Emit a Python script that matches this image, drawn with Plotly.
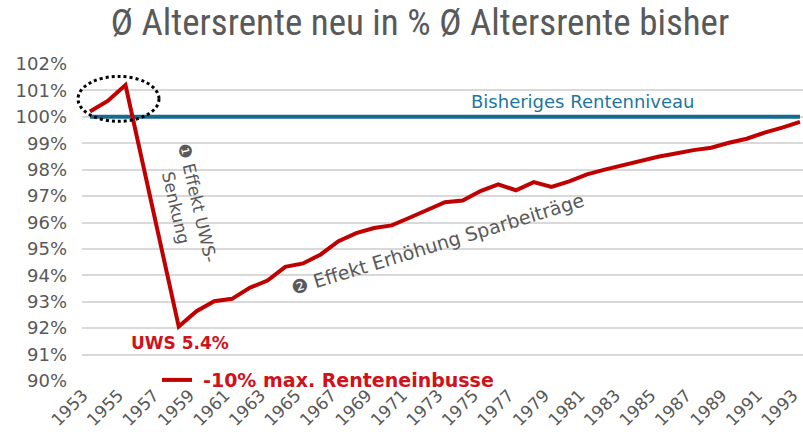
import plotly.graph_objects as go

years = list(range(1953, 1994))
rente_neu = [100.2, 100.6, 101.2, 98.15, 95.1, 92.06, 92.64, 93.02, 93.11, 93.53,
             93.8, 94.32, 94.45, 94.79, 95.29, 95.6, 95.79, 95.89, 96.18, 96.47,
             96.77, 96.83, 97.19, 97.44, 97.22, 97.53, 97.35, 97.56, 97.82, 98.0,
             98.16, 98.32, 98.49, 98.61, 98.74, 98.83, 99.02, 99.17, 99.40, 99.59, 99.81]
rente_bisher = [100.0] * len(years)
x_ticks = list(range(1953, 1994, 2))
y_ticks = list(range(90, 103))

RED = "#c00000"
RED_TXT = "#d0121b"
BLUE = "#156a8e"
BLUE_TXT = "#1d76a0"
GRAY = "#595959"
FONT = "DejaVu Sans, Liberation Sans, Arial, sans-serif"

fig = go.Figure()
fig.add_trace(go.Scatter(x=years, y=rente_bisher, mode="lines",
                         line=dict(color=BLUE, width=4), showlegend=False,
                         name="Bisheriges Rentenniveau"))
fig.add_trace(go.Scatter(x=years, y=rente_neu, mode="lines",
                         line=dict(color=RED, width=4), showlegend=True,
                         name="\u00a0<b>-10% max. Renteneinbusse</b>"))

# dotted ellipse highlighting the early peak (x in paper units so it is not clipped)
fig.add_shape(type="circle", xref="paper", yref="y",
              x0=-0.0055, x1=0.1068, y0=99.83, y1=101.53,
              line=dict(color="black", width=3, dash="3px,3px"), layer="above")

fig.add_annotation(x=1980.8, y=100.58, text="Bisheriges Rentenniveau",
                   showarrow=False, font=dict(family=FONT, size=18, color=BLUE_TXT))
fig.add_annotation(x=1958.44, y=96.66, text="❶ Effekt UWS-<br>Senkung",
                   showarrow=False, textangle=77, align="center",
                   font=dict(family=FONT, size=17, color=GRAY))
fig.add_annotation(x=1972.55, y=95.2, text="❷ Effekt Erhöhung Sparbeiträge",
                   showarrow=False, textangle=-17,
                   font=dict(family=FONT, size=19, color=GRAY))
fig.add_annotation(x=1958.07, y=91.42, text="<b>UWS 5.4%</b>",
                   showarrow=False, font=dict(family=FONT, size=17, color=RED_TXT))

fig.update_layout(
    width=803, height=434,
    margin=dict(l=82, r=0, t=64, b=53, autoexpand=False),
    paper_bgcolor="white", plot_bgcolor="white",
    font=dict(family=FONT, color=GRAY),
    title=dict(text="Ø Altersrente neu in % Ø Altersrente bisher",
               x=420 / 803, xanchor="center", y=1 - 22 / 434, yanchor="middle",
               font=dict(family="Liberation Sans Narrow, Arial Narrow, Roboto Condensed, sans-serif",
                         size=37, color=GRAY)),
    legend=dict(orientation="h", x=0.104, xanchor="left", y=0.003, yanchor="middle",
                font=dict(family=FONT, size=19, color=RED_TXT),
                bgcolor="rgba(0,0,0,0)", itemwidth=30),
    xaxis=dict(range=[1952.55, 1993.17], tickvals=x_ticks, automargin=False,
               ticktext=[str(t) for t in x_ticks], tickangle=-45,
               ticklabeloverflow="allow", ticklabelshift=-7,
               showgrid=False, zeroline=False, showline=False,
               tickfont=dict(family=FONT, size=17, color=GRAY)),
    yaxis=dict(range=[90, 102], tickvals=y_ticks, automargin=False,
               ticktext=[f"{t}%" for t in y_ticks],
               showgrid=True, gridcolor="#d9d9d9", gridwidth=1.5,
               zeroline=False, showline=False, ticklabelstandoff=14,
               tickfont=dict(family=FONT, size=18, color=GRAY)),
)

fig.write_html("out.html", config={"displayModeBar": False},
               post_script="document.body.style.margin='0';")
